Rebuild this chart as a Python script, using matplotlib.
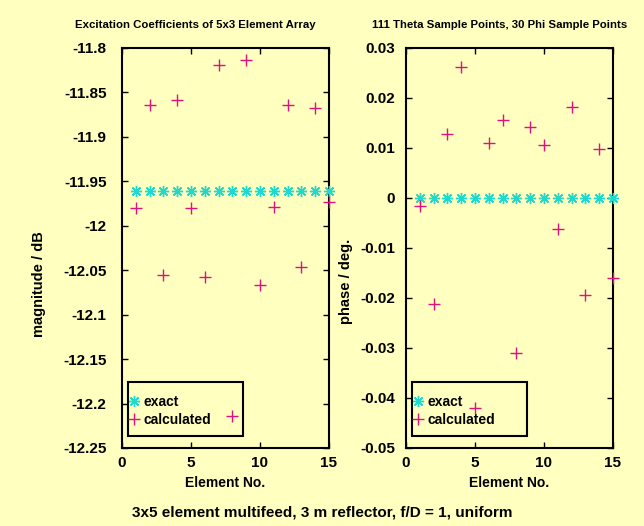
import numpy as np
import matplotlib.pyplot as plt
from matplotlib.patches import Rectangle

plt.rcParams['font.family'] = ['Liberation Sans', 'DejaVu Sans']
plt.rcParams['font.weight'] = 'bold'
plt.rcParams['axes.labelweight'] = 'bold'
plt.rcParams['axes.titleweight'] = 'bold'

element = np.arange(1, 16)
mag_exact = [-11.9605] * 15
mag_calc = [-11.980, -11.8645, -12.055, -11.859, -11.980, -12.0576, -11.8188, -12.214,
            -11.8135, -12.0666, -11.979, -11.8645, -12.0464, -11.868, -11.973]
phase_exact = [0.0] * 15
phase_calc = [-0.0017, -0.0213, 0.0127, 0.0262, -0.0421, 0.0109, 0.0155, -0.031,
              0.0141, 0.0105, -0.0063, 0.0181, -0.0194, 0.0097, -0.016]

bg = '#ffffc0'
cyan = '#20d8cc'
magenta = '#e0107f'
star = (8, 2, 0)

fig = plt.figure(figsize=(6.44, 5.26), dpi=100, facecolor=bg)
ax1 = fig.add_axes([0.1894, 0.1483, 0.3214, 0.7605])
ax2 = fig.add_axes([0.6304, 0.1483, 0.3214, 0.7605])


def style(ax, ylim, yticks, ypad):
    ax.set_facecolor(bg)
    ax.set_xlim(0, 15)
    ax.set_ylim(*ylim)
    ax.set_xticks([0, 5, 10, 15])
    ax.set_yticks(yticks)
    ax.set_yticklabels(['%g' % v for v in yticks])
    ax.tick_params(direction='in', top=True, right=True, length=4, width=1,
                   labelsize=11, pad=ypad)
    ax.tick_params(axis='x', pad=6)
    for s in ax.spines.values():
        s.set_linewidth(1.5)
    ax.set_xlabel('Element No.', fontsize=10, labelpad=4)
    # legend box
    ax.add_patch(Rectangle((0.029, 0.03), 0.556, 0.135, transform=ax.transAxes,
                           facecolor='none', edgecolor='black', lw=1.5, zorder=1))


ax1.plot(element, mag_exact, ls='none', marker=star, ms=8, mew=1, color=cyan,
         label='exact', clip_on=False, zorder=3)
ax1.plot(element, mag_calc, ls='none', marker='+', ms=8, mew=1, color=magenta,
         label='calculated', clip_on=False, zorder=3)
style(ax1, (-12.25, -11.8),
      [-11.8, -11.85, -11.9, -11.95, -12, -12.05, -12.1, -12.15, -12.2, -12.25], 11)
ax1.set_ylabel('magnitude / dB', fontsize=10.5)
ax1.yaxis.set_label_coords(-0.366, 0.41)

ax2.plot(element, phase_exact, ls='none', marker=star, ms=8, mew=1, color=cyan,
         label='exact', clip_on=False, zorder=3)
ax2.plot(element, phase_calc, ls='none', marker='+', ms=8, mew=1, color=magenta,
         label='calculated', clip_on=False, zorder=3)
style(ax2, (-0.05, 0.03), [0.03, 0.02, 0.01, 0, -0.01, -0.02, -0.03, -0.04, -0.05], 8)
ax2.set_ylabel('phase / deg.', fontsize=10.5)
ax2.yaxis.set_label_coords(-0.256, 0.417)

for ax in (ax1, ax2):
    ax.legend(loc='lower left', bbox_to_anchor=(0.02, 0.045), frameon=False,
              fontsize=10, handlelength=0.6, handletextpad=0.4, borderpad=0.25,
              borderaxespad=0, labelspacing=0.25)

fig.text(0.303, 0.9525, 'Excitation Coefficients of 5x3 Element Array',
         ha='center', va='center', fontsize=8.2, fontweight='bold')
fig.text(0.7755, 0.9525, '111 Theta Sample Points, 30 Phi Sample Points',
         ha='center', va='center', fontsize=8.2, fontweight='bold')
fig.text(0.5, 0.0266, '3x5 element multifeed, 3 m reflector, f/D = 1, uniform',
         ha='center', va='center', fontsize=11, fontweight='bold')

fig.savefig('out.png', dpi=100, facecolor=bg)
